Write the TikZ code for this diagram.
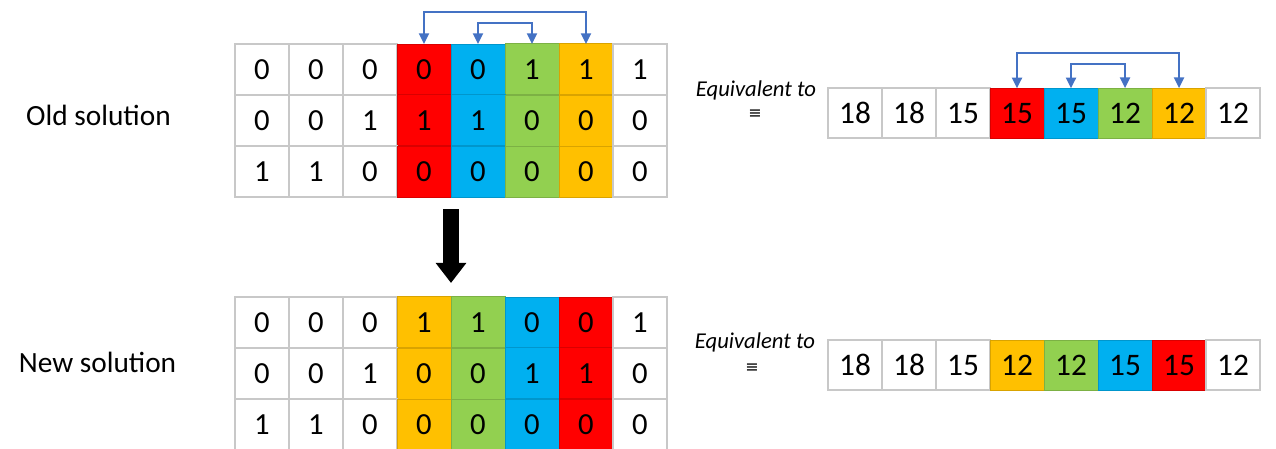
\documentclass[tikz,border=0pt]{standalone}
\usepackage{fontspec}
\setmainfont{Carlito}
\newfontfamily\symfont{DejaVu Sans}
\usetikzlibrary{matrix,arrows.meta}

\definecolor{cred}{HTML}{FF0000}
\definecolor{cblue}{HTML}{00B0F0}
\definecolor{cgreen}{HTML}{92D050}
\definecolor{cyellow}{HTML}{FFC000}
\definecolor{linkblue}{HTML}{4472C4}
\definecolor{gridgray}{HTML}{C8C8C8}

\tikzset{
  redcol/.style={fill=cred,draw=cred!85!black,line width=0.75pt},
  bluecol/.style={fill=cblue,draw=cblue!85!black,line width=0.75pt},
  greencol/.style={fill=cgreen,draw=cgreen!85!black,line width=0.75pt},
  yellowcol/.style={fill=cyellow,draw=cyellow!85!black,line width=0.75pt},
}

\begin{document}
\begin{tikzpicture}[x=0.75pt,y=-0.75pt,
  % cells placed between origins so that borders are shared
  bits/.style={matrix of nodes, inner sep=0pt,
    column sep={40.5pt,between origins},
    row sep={38.25pt,between origins},
    nodes={rectangle, draw=gridgray, line width=1.5pt, outer sep=0pt,
      minimum width=40.5pt, minimum height=38.25pt,
      font=\fontsize{23}{27}\selectfont}},
  costs/.style={bits, nodes={minimum height=37.5pt, font=\fontsize{23.5}{28}\selectfont}},
  swaplink/.style={linkblue, line width=1.5pt,
    {Triangle[width=7.5pt,length=8pt]}-{Triangle[width=7.5pt,length=8pt]}},
  bigarrow/.style={line width=11.5pt, -{Triangle[width=22pt,length=15pt]},
    shorten <=9pt, shorten >=10.5pt},
  lab/.style={font=\fontsize{22}{26}\selectfont},
  eqlab/.style={font=\fontsize{17}{20}\selectfont\itshape},
  eqsym/.style={font=\symfont\fontsize{12}{14}\selectfont}]
\useasboundingbox (0,0) rectangle (1276,449);

% old solution
\node[lab] (oldlab) at (98.5,115) {Old solution};
\matrix (old) [bits] at (451,120.5) {
0 & 0 & 0 & |[redcol]| 0 & |[bluecol]| 0 & |[greencol]| 1 & |[yellowcol]| 1 & 1 \\
0 & 0 & 1 & |[redcol]| 1 & |[bluecol]| 1 & |[greencol]| 0 & |[yellowcol]| 0 & 0 \\
1 & 1 & 0 & |[redcol]| 0 & |[bluecol]| 0 & |[greencol]| 0 & |[yellowcol]| 0 & 0 \\
};
\draw[swaplink] (old-1-4.north) -- ++(0,-32) -| (old-1-7.north);
\draw[swaplink] (old-1-5.north) -- ++(0,-21) -| (old-1-6.north);

\node[eqlab] (eqold) at (756,90) {Equivalent to};
\node[eqsym] (eqsymold) at (755,114) {≡};
\matrix (oldcost) [costs] at (1044,113) {
18 & 18 & 15 & |[redcol]| 15 & |[bluecol]| 15 & |[greencol]| 12 & |[yellowcol]| 12 & 12 \\
};
\draw[swaplink] (oldcost-1-4.north) -- ++(0,-35) -| (oldcost-1-7.north);
\draw[swaplink] (oldcost-1-5.north) -- ++(0,-24) -| (oldcost-1-6.north);

% new solution
\node[lab] (newlab) at (97.5,362) {New solution};
\matrix (new) [bits] at (451,373.5) {
0 & 0 & 0 & |[yellowcol]| 1 & |[greencol]| 1 & |[bluecol]| 0 & |[redcol]| 0 & 1 \\
0 & 0 & 1 & |[yellowcol]| 0 & |[greencol]| 0 & |[bluecol]| 1 & |[redcol]| 1 & 0 \\
1 & 1 & 0 & |[yellowcol]| 0 & |[greencol]| 0 & |[bluecol]| 0 & |[redcol]| 0 & 0 \\
};

\node[eqlab] (eqnew) at (755,342) {Equivalent to};
\node[eqsym] (eqsymnew) at (752,368) {≡};
\matrix (newcost) [costs] at (1044,365) {
18 & 18 & 15 & |[yellowcol]| 12 & |[greencol]| 12 & |[bluecol]| 15 & |[redcol]| 15 & 12 \\
};

\draw[bigarrow] (old-3-4.south east) -- (new-1-4.north east);
\end{tikzpicture}
\end{document}
